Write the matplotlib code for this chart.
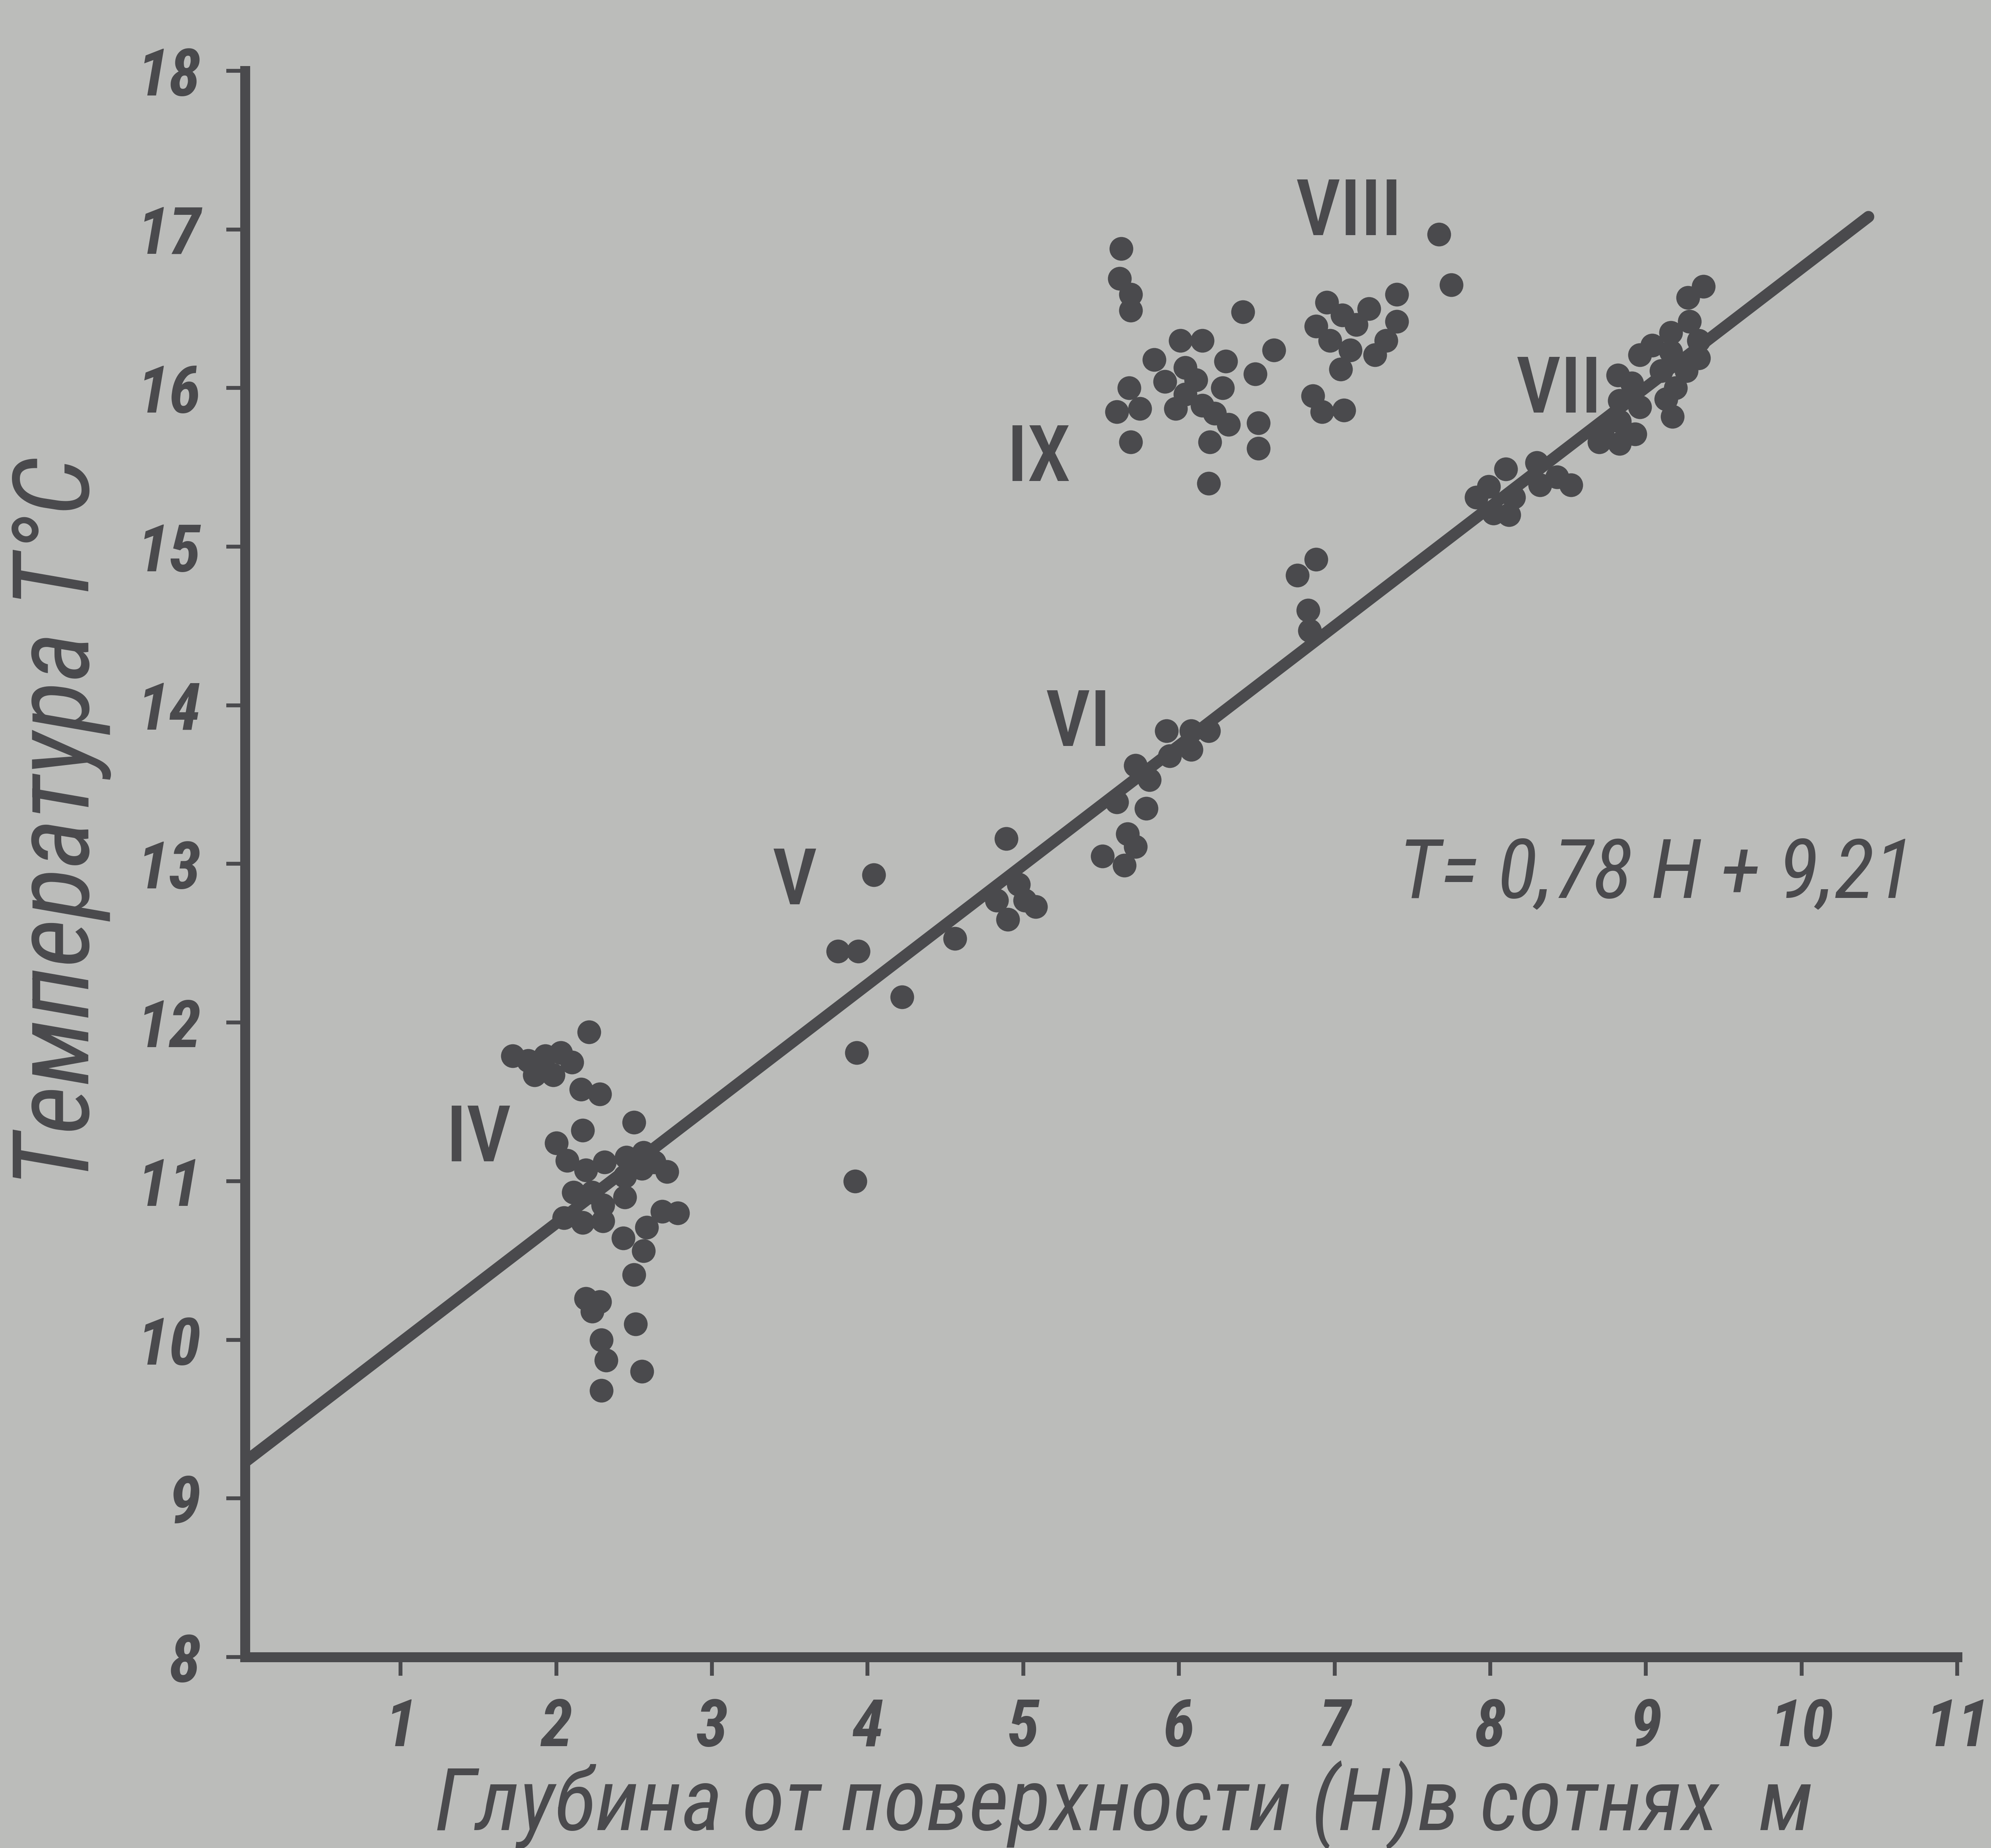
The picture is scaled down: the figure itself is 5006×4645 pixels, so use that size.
import matplotlib
matplotlib.use("Agg")
import matplotlib.pyplot as plt

# ---------------- data (depth H in hundreds of m, temperature T in C) ----------------
iv_h = [1.72, 1.82, 1.86, 1.93, 1.98, 2.03, 2.10, 2.16, 2.28, 2.21,
        2.17, 2.50, 2.00, 2.07,
        2.19, 2.31, 2.11, 2.23, 2.05, 2.17, 2.30, 2.30, 2.45, 2.56, 2.44, 2.55, 2.71, 2.44, 2.63,
        2.43, 2.58, 2.68, 2.78, 2.56, 2.50,
        2.19, 2.28, 2.23, 2.51, 2.29, 2.32, 2.55, 2.29]
iv_t = [11.79, 11.76, 11.67, 11.79, 11.67, 11.81, 11.75, 11.58, 11.55, 11.94,
        11.32, 11.37, 11.24, 11.13,
        11.07, 11.12, 10.93, 10.93, 10.77, 10.74, 10.75, 10.85, 11.15, 11.18, 11.03, 11.08, 11.06, 10.90, 11.12,
        10.64, 10.71, 10.81, 10.80, 10.56, 10.41,
        10.26, 10.24, 10.18, 10.10, 10.00, 9.87, 9.80, 9.68]

v_h = [3.81, 3.94, 4.04, 4.22, 3.93, 3.92, 4.56, 4.89, 4.83, 4.97, 5.08, 4.90, 5.01]
v_t = [12.45, 12.45, 12.93, 12.16, 11.81, 11.00, 12.53, 13.16, 12.77, 12.87, 12.73, 12.65, 12.77]

vi_h = [5.60, 5.79, 5.67, 5.51, 5.65, 5.72, 5.72, 5.81, 5.92, 6.08, 6.19, 5.94, 6.08,
        6.76, 6.88, 6.83, 6.84]
vi_t = [13.39, 13.35, 13.19, 13.05, 12.99, 13.11, 13.62, 13.53, 13.84, 13.84, 13.84, 13.68, 13.72,
        14.82, 14.92, 14.60, 14.47]

vii_h = [7.91, 8.02, 8.12, 8.10, 8.15, 8.30, 8.32, 8.43, 8.52, 7.99,
         8.82, 8.91, 8.83, 8.96, 8.83, 8.93, 8.72, 8.83, 8.70,
         9.37, 9.27, 9.28, 9.16, 9.34, 9.04, 8.96, 9.16, 9.34, 9.26, 9.10, 9.19, 9.13, 9.17]
vii_t = [15.31, 15.21, 15.20, 15.49, 15.31, 15.53, 15.39, 15.44, 15.39, 15.38,
         16.08, 16.03, 15.92, 15.88, 15.79, 15.71, 15.73, 15.65, 15.66,
         16.64, 16.57, 16.42, 16.35, 16.30, 16.27, 16.21, 16.23, 16.19, 16.11, 16.11, 16.00, 15.93, 15.82]

viii_h = [6.95, 6.88, 6.97, 7.22, 7.40, 7.40, 7.14, 7.33, 7.10, 7.26, 7.04, 7.05,
          6.86, 6.92, 7.06, 7.67, 7.75]
viii_t = [16.54, 16.39, 16.30, 16.50, 16.59, 16.42, 16.40, 16.30, 16.24, 16.21, 16.12, 16.46,
          15.95, 15.85, 15.86, 16.97, 16.65]

ix_h = [5.63, 5.62, 5.69, 5.69, 6.41, 6.61, 6.49, 5.84, 6.01, 6.15, 6.30, 6.04, 5.91, 6.11,
        6.28, 5.98, 6.15, 6.23, 6.04, 5.68, 5.60, 5.75, 6.32, 5.69, 6.20, 6.51, 6.51, 6.19]
ix_t = [16.88, 16.69, 16.59, 16.49, 16.48, 16.24, 16.09, 16.18, 16.30, 16.30, 16.17, 16.13, 16.04, 16.05,
        16.00, 15.87, 15.89, 15.84, 15.96, 16.00, 15.85, 15.87, 15.77, 15.66, 15.66, 15.78, 15.62, 15.40]

fit_h = [0.0, 10.43]
fit_t = [9.23, 17.08]

x_ticks = [1, 2, 3, 4, 5, 6, 7, 8, 9, 10, 11]
y_ticks = [8, 9, 10, 11, 12, 13, 14, 15, 16, 17, 18]

group_names = ["IV", "V", "VI", "VII", "VIII", "IX"]
equation_text = "T= 0,78 H + 9,21"
x_title = "Глубина от поверхности (Н)в сотнях  м"
y_title = "Температура T°C"

# ---------------- style ----------------
BG = "#bbbcba"
INK = "#4a4a4d"
FONT = ["Roboto Condensed", "DejaVu Sans"]

fig = plt.figure(figsize=(50.06, 46.45), dpi=100, facecolor=BG)
ax = fig.add_axes([0.12305, 0.10334, 0.85997, 0.85834], facecolor=BG)

ax.plot(fit_h, fit_t, color=INK, lw=21, solid_capstyle="round", zorder=2)

groups = [(iv_h, iv_t), (v_h, v_t), (vi_h, vi_t), (vii_h, vii_t), (viii_h, viii_t), (ix_h, ix_t)]
for gh, gt in groups:
    ax.plot(gh, gt, "o", ms=43, color=INK, mec=INK, mew=0, zorder=3, clip_on=False)

ax.set_xlim(0, 11)
ax.set_ylim(8, 18)
for s in ("top", "right"):
    ax.spines[s].set_visible(False)
for s in ("left", "bottom"):
    ax.spines[s].set_linewidth(18)
    ax.spines[s].set_color(INK)
    ax.spines[s].set_capstyle("projecting")

ax.set_xticks(x_ticks)
ax.set_yticks(y_ticks)
ax.set_xticklabels([str(v) for v in x_ticks], family=FONT, style="italic",
                   weight="bold", fontsize=118, color=INK)
ax.set_yticklabels([str(v) for v in y_ticks], family=FONT, style="italic",
                   weight="bold", fontsize=118, color=INK)
ax.tick_params(axis="both", direction="out", length=34, width=7, color=INK)
ax.tick_params(axis="x", pad=38)
ax.tick_params(axis="y", pad=46)

label_pos = [(1.50, 11.26), (3.53, 12.88), (5.35, 13.88), (8.44, 15.98), (7.09, 17.10), (5.10, 15.55)]
for name, (lx, ly) in zip(group_names, label_pos):
    ax.text(lx, ly, name, family=FONT, weight="medium", fontsize=142, color=INK,
            ha="center", va="center", zorder=4)

ax.text(7.41, 12.93, equation_text, family=FONT, style="italic", fontsize=150,
        color=INK, ha="left", va="center", zorder=4)

fig.text(0.5646, 0.0097, x_title, family=FONT, style="italic", fontsize=158,
         color=INK, ha="center", va="baseline")
fig.text(0.0306, 0.555, y_title, family=FONT, style="italic", fontsize=192,
         color=INK, ha="center", va="center", rotation=90)

fig.savefig("out.png", dpi=100, facecolor=BG)
